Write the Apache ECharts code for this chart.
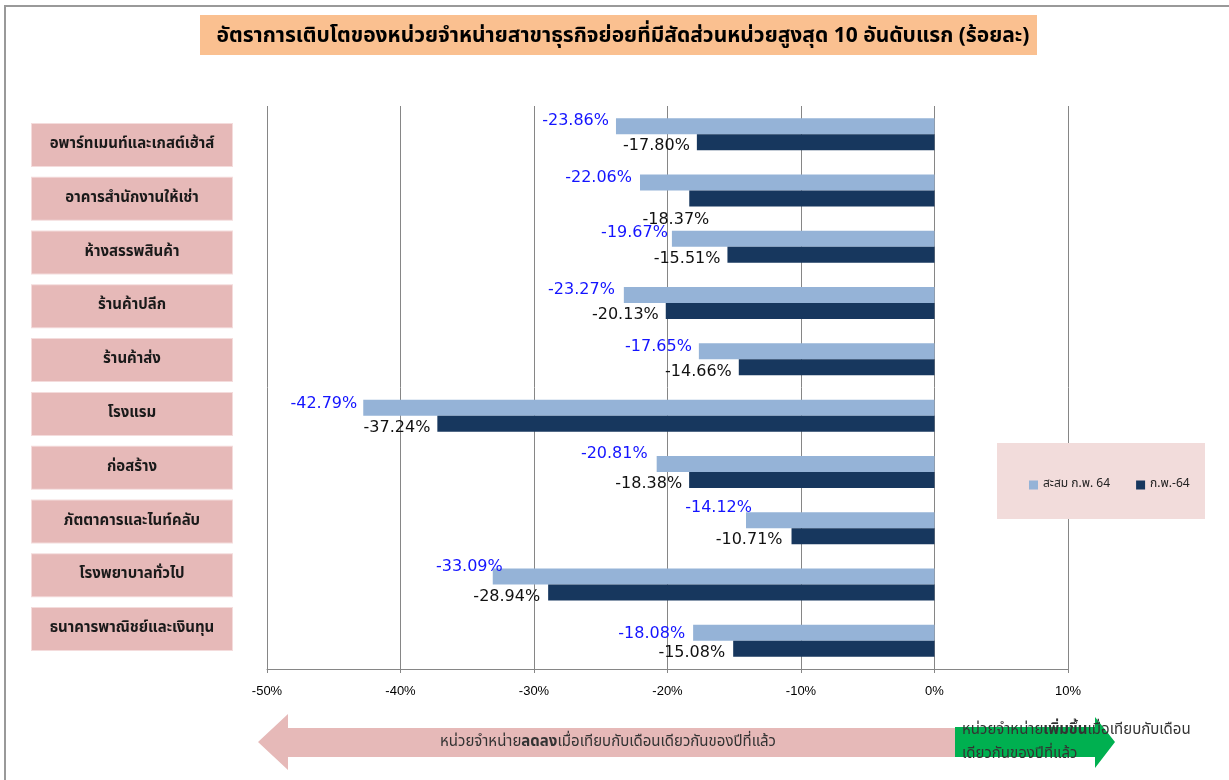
<!DOCTYPE html>
<html>
<head>
<meta charset="utf-8">
<script src="https://cdn.jsdelivr.net/npm/echarts@6/dist/echarts.min.js"></script>
<style>
  html, body { margin: 0; padding: 0; background: #fff; }
  #chart { width: 1229px; height: 780px; }
</style>
</head>
<body>
<div id="chart"></div>
<script>
// ---- data ----
const categories = [
  'อพาร์ทเมนท์และเกสต์เฮ้าส์',
  'อาคารสำนักงานให้เช่า',
  'ห้างสรรพสินค้า',
  'ร้านค้าปลีก',
  'ร้านค้าส่ง',
  'โรงแรม',
  'ก่อสร้าง',
  'ภัตตาคารและไนท์คลับ',
  'โรงพยาบาลทั่วไป',
  'ธนาคารพาณิชย์และเงินทุน'
];
const seriesNames = ['สะสม ก.พ. 64', 'ก.พ.-64'];
const cumulative = [-23.86, -22.06, -19.67, -23.27, -17.65, -42.79, -20.81, -14.12, -33.09, -18.08];
const monthly    = [-17.80, -18.37, -15.51, -20.13, -14.66, -37.24, -18.38, -10.71, -28.94, -15.08];
const xMin = -50, xMax = 10, xStep = 10;
const titleText = 'อัตราการเติบโตของหน่วยจำหน่ายสาขาธุรกิจย่อยที่มีสัดส่วนหน่วยสูงสุด 10 อันดับแรก (ร้อยละ)';

// ---- label placement tweaks (style) ----
const lightLabelShift = [[0,-5],[-1,-5],[3,-6],[-2,-5],[0,-5],[1,-4],[-2,-10],[13,-12],[17,-10],[-1,1]];
const darkLabelShift  = [[0,4],[27,21],[0,4],[0,4],[0,4],[0,4],[0,4],[-2,4],[-1,4],[-1,4]];

const thaiFont = '"Noto Sans Thai", "Noto Sans Thai UI", Tahoma, "Noto Sans", sans-serif';
const numFont = '"DejaVu Sans", Verdana, sans-serif';

function makeData(vals, shifts) {
  return vals.map((v, i) => ({
    value: v,
    label: { offset: shifts[i] }
  }));
}

const chart = echarts.init(document.getElementById('chart'));
chart.setOption({
  animation: false,
  backgroundColor: '#ffffff',
  title: {
    text: titleText,
    left: 618, top: 22, textAlign: 'center',
    textStyle: { fontFamily: thaiFont, fontSize: 21, fontWeight: 'bold', color: '#000' }
  },
  legend: {
    data: seriesNames,
    left: 1024, top: 474,
    itemWidth: 9, itemHeight: 9, itemGap: 26,
    icon: 'rect',
    textStyle: { fontFamily: thaiFont, fontSize: 12, color: '#222' },
    z: 6
  },
  grid: [
    { left: 267, right: 161, top: 106, bottom: 111, containLabel: false },
    { left: 240, width: 1, top: 118, bottom: 124, containLabel: false }
  ],
  xAxis: [
    {
      gridIndex: 0, type: 'value', min: xMin, max: xMax, interval: xStep,
      axisLine: { show: true, lineStyle: { color: '#868686', width: 1 } },
      axisTick: { show: true, length: 4, inside: false, lineStyle: { color: '#868686' } },
      splitLine: { show: true, lineStyle: { color: '#868686', width: 1 } },
      axisLabel: { formatter: '{value}%', margin: 16, color: '#000',
                   fontFamily: '"Liberation Sans Narrow", "Liberation Sans", sans-serif', fontSize: 13 }
    },
    { gridIndex: 1, type: 'value', show: false }
  ],
  yAxis: [
    {
      gridIndex: 0, type: 'category', data: categories, inverse: true,
      axisLine: { show: false }, axisTick: { show: false }, axisLabel: { show: false },
      splitLine: { show: false }
    },
    {
      gridIndex: 1, type: 'category', data: categories, inverse: true,
      axisLine: { show: false }, axisTick: { show: false }, splitLine: { show: false },
      axisLabel: {
        show: true, margin: 108, align: 'center', verticalAlign: 'middle',
        width: 200, height: 42, lineHeight: 42,
        backgroundColor: '#e6b9b8',
        borderColor: '#f4dcdc', borderWidth: 1,
        color: '#1a1a1a', fontFamily: thaiFont, fontSize: 15, fontWeight: 'bold'
      }
    }
  ],
  series: [
    {
      name: seriesNames[0], type: 'bar', xAxisIndex: 0, yAxisIndex: 0,
      data: makeData(cumulative, lightLabelShift),
      barWidth: 16, barGap: '0%',
      itemStyle: { color: '#95b3d7' },
      label: {
        show: true, position: 'left', distance: 7,
        formatter: p => p.value.toFixed(2) + '%',
        color: '#1414ff', fontFamily: numFont, fontSize: 16
      }
    },
    {
      name: seriesNames[1], type: 'bar', xAxisIndex: 0, yAxisIndex: 0,
      data: makeData(monthly, darkLabelShift),
      barWidth: 16, barGap: '0%',
      itemStyle: { color: '#17375e' },
      label: {
        show: true, position: 'left', distance: 7,
        formatter: p => p.value.toFixed(2) + '%',
        color: '#111', fontFamily: numFont, fontSize: 16
      }
    }
  ],
  graphic: [
    // outer border
    { type: 'polyline', z: 1, shape: { points: [[5, 780], [5, 6], [1229, 6]] },
      style: { stroke: '#999999', lineWidth: 2, fill: null } },
    // title background
    { type: 'rect', z: -1, shape: { x: 200, y: 15, width: 837, height: 40 },
      style: { fill: '#fac090' } },
    // legend box
    { type: 'rect', z: 5, shape: { x: 997, y: 443, width: 208, height: 76 },
      style: { fill: '#f2dcdb' } },
    // pink left arrow
    { type: 'polygon', z: 2,
      shape: { points: [[258, 742], [288, 714], [288, 728], [955, 728], [955, 757], [288, 757], [288, 770]] },
      style: { fill: '#e6b9b8' } },
    // green right arrow
    { type: 'polygon', z: 2,
      shape: { points: [[955, 727], [1095, 727], [1095, 717], [1115, 742], [1095, 768], [1095, 757], [955, 757]] },
      style: { fill: '#00b050' } },
    { type: 'text', z: 3, left: 440, top: 735,
      style: {
        text: '{n|หน่วยจำหน่าย}{b|ลดลง}{n|เมื่อเทียบกับเดือนเดียวกันของปีที่แล้ว}',
        rich: {
          n: { fontFamily: thaiFont, fontSize: 15, fill: '#333' },
          b: { fontFamily: thaiFont, fontSize: 15, fontWeight: 'bold', fill: '#333' }
        }
      } },
    { type: 'text', z: 3, left: 962, top: 723,
      style: {
        text: '{n|หน่วยจำหน่าย}{b|เพิ่มขึ้น}{n|เมื่อเทียบกับเดือน}\n{n|เดียวกันของปีที่แล้ว}',
        rich: {
          n: { fontFamily: thaiFont, fontSize: 15, fill: '#333', lineHeight: 24 },
          b: { fontFamily: thaiFont, fontSize: 15, fontWeight: 'bold', fill: '#333', lineHeight: 24 }
        }
      } }
  ]
});
</script>
</body>
</html>
